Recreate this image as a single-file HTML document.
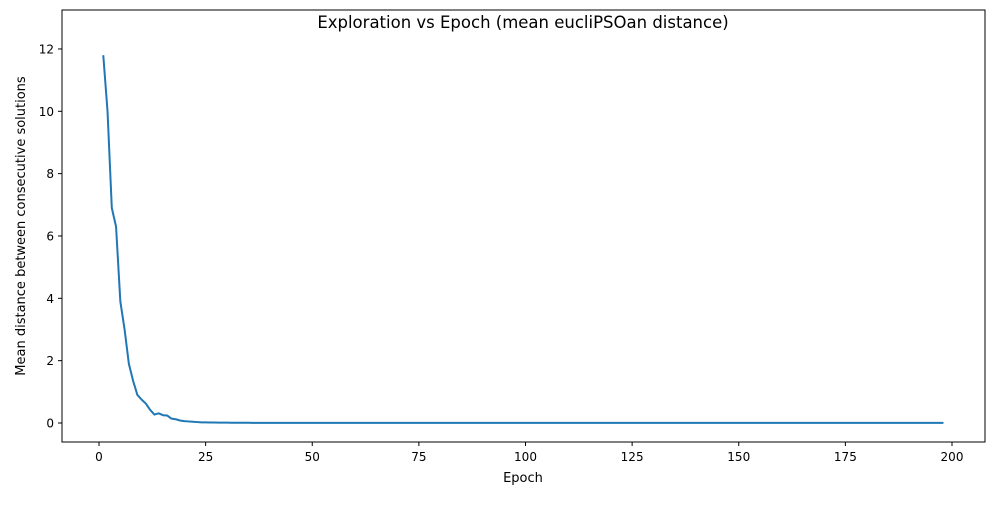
<!DOCTYPE html>
<html><head><meta charset="utf-8"><style>
body{margin:0;background:#fff;}
svg text{font-family:"DejaVu Sans","Liberation Sans",sans-serif;fill:#000;}
</style></head><body>
<svg width="1000" height="500" xmlns="http://www.w3.org/2000/svg">
<rect width="1000" height="500" fill="#fff"/>
<text x="523" y="28" font-size="16.5" text-anchor="middle">Exploration vs Epoch (mean eucliPSOan distance)</text>
<g id="xt"></g><g id="yt"></g>
<path id="line" fill="none" stroke="#1f77b4" stroke-width="2" stroke-linejoin="round"/>
<rect x="62" y="10" width="923" height="432" fill="none" stroke="#000" stroke-width="1"/>
<text x="523" y="482" font-size="13" text-anchor="middle">Epoch</text>
<text transform="translate(25,226) rotate(-90)" font-size="13" text-anchor="middle">Mean distance between consecutive solutions</text>
</svg>
<script>
const xTicks=[0,25,50,75,100,125,150,175,200];
const yTicks=[0,2,4,6,8,10,12];
const head=[11.8,10.0,6.9,6.3,3.9,3.0,1.9,1.35,0.9,0.75,0.62,0.42,0.27,0.31,0.25,0.24,0.14,0.12,0.08,0.06,0.05,0.04,0.03,0.02,
0.02,0.018,0.015,0.013,0.012,0.011,0.01,0.009,0.008,0.007,0.006,0.005];
const tail=[0.004,0.004,0.004,0.004,0.004,0.004,0.004,0.004,0.004,0.004,0.004,0.004,0.004,0.004,0.004,0.004,0.004,0.004,0.004,0.004,
0.004,0.004,0.004,0.004,0.004,0.004,0.004,0.004,0.004,0.004,0.004,0.004,0.004,0.004,0.004,0.004,0.004,0.004,0.004,0.004,
0.004,0.004,0.004,0.004,0.004,0.004,0.004,0.004,0.004,0.004,0.004,0.004,0.004,0.004,0.004,0.004,0.004,0.004,0.004,0.004,
0.004,0.004,0.004,0.004,0.004,0.004,0.004,0.004,0.004,0.004,0.004,0.004,0.004,0.004,0.004,0.004,0.004,0.004,0.004,0.004,
0.004,0.004,0.004,0.004,0.004,0.004,0.004,0.004,0.004,0.004,0.004,0.004,0.004,0.004,0.004,0.004,0.004,0.004,0.004,0.004,
0.004,0.004,0.004,0.004,0.004,0.004,0.004,0.004,0.004,0.004,0.004,0.004,0.004,0.004,0.004,0.004,0.004,0.004,0.004,0.004,
0.004,0.004,0.004,0.004,0.004,0.004,0.004,0.004,0.004,0.004,0.004,0.004,0.004,0.004,0.004,0.004,0.004,0.004,0.004,0.004,
0.004,0.004,0.004,0.004,0.004,0.004,0.004,0.004,0.004,0.004,0.004,0.004,0.004,0.004,0.004,0.004,0.004,0.004,0.004,0.004,
0.004,0.004];
const values=head.concat(tail);
const NS="http://www.w3.org/2000/svg";
const xs=v=>99+v*4.265;
const ys=v=>423-v*31.17;
const xt=document.getElementById('xt'),yt=document.getElementById('yt');
xTicks.forEach(t=>{
 const l=document.createElementNS(NS,'line');
 l.setAttribute('x1',xs(t));l.setAttribute('x2',xs(t));l.setAttribute('y1',442);l.setAttribute('y2',446);l.setAttribute('stroke','#000');
 
 
 xt.appendChild(l);
 const tx=document.createElementNS(NS,'text');
 tx.setAttribute('x',xs(t));tx.setAttribute('y',461);tx.setAttribute('font-size','12');tx.setAttribute('text-anchor','middle');tx.textContent=t;
 
 
 xt.appendChild(tx);
});
yTicks.forEach(t=>{
 const l=document.createElementNS(NS,'line');
 l.setAttribute('x1',58);l.setAttribute('x2',62);l.setAttribute('y1',ys(t));l.setAttribute('y2',ys(t));l.setAttribute('stroke','#000');
 
 
 yt.appendChild(l);
 const tx=document.createElementNS(NS,'text');
 tx.setAttribute('x',54);tx.setAttribute('y',ys(t)+4.5);tx.setAttribute('font-size','12');tx.setAttribute('text-anchor','end');tx.textContent=t;
 
 
 yt.appendChild(tx);
});
document.getElementById('line').setAttribute('d',values.map((v,i)=>(i?'L':'M')+xs(i+1).toFixed(2)+','+ys(v).toFixed(2)).join(''));
</script>
</body></html>
